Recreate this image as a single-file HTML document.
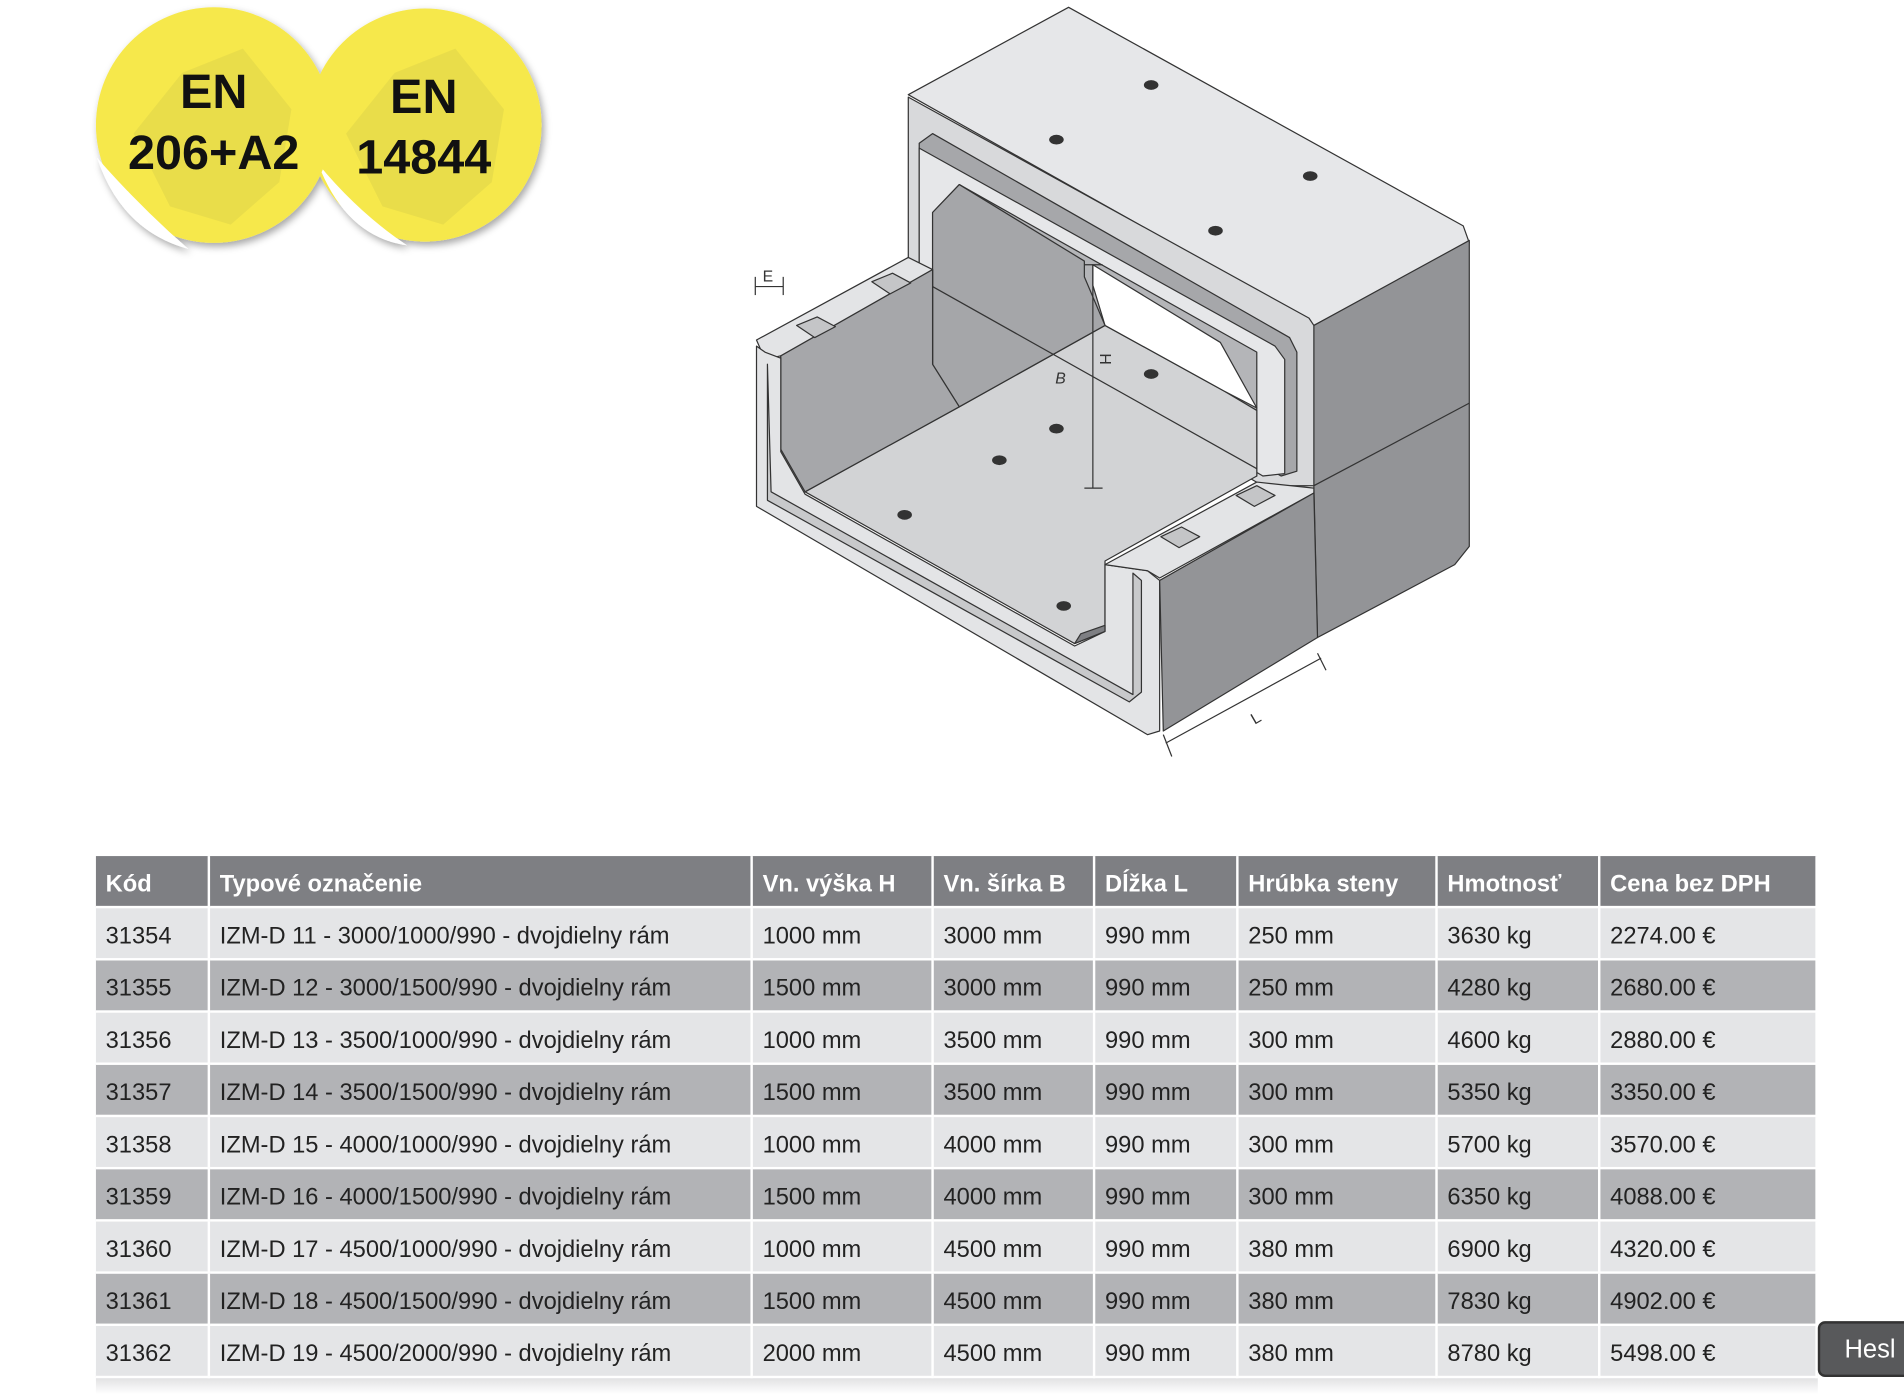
<!DOCTYPE html>
<html><head><meta charset="utf-8"><style>
html,body{margin:0;padding:0;background:#fff;overflow:hidden}
#w{width:1568px;height:1148px;position:relative;transform:scale(1.21429);transform-origin:0 0;font-family:"Liberation Sans",sans-serif}
table{position:absolute;left:79px;top:705px;border-collapse:collapse;width:1418px;font-size:19.5px;color:#222}
td,th{height:36px;padding:5px 0 0 8px;text-align:left;border:2px solid #fff;white-space:nowrap}
th{background:#7e7f83;color:#fff;font-weight:bold;font-size:19.5px;border-top:none}
tr.l td{background:#e4e5e7}
tr.d td{background:#b2b3b6}
td:first-child,th:first-child{border-left:none}
.tip{position:absolute;left:1497px;top:1088px;width:80px;height:46px;background:#58595b;border:2px solid #333;border-radius:6px;color:#fff;font-size:21px;line-height:44px;padding-left:20px;box-sizing:border-box}
</style></head><body><div id="w">
<svg width="1568" height="700" style="position:absolute;left:0;top:0">
<defs><filter id="sh"><feDropShadow dx="2" dy="3" stdDeviation="3" flood-opacity="0.35"/></filter></defs>
<g filter="url(#sh)">
<circle cx="350" cy="103" r="96" fill="#f6e84c"/>
<path d="M262 135 Q295 175 335 202 Q285 195 262 135Z" fill="#fff"/>
<circle cx="176" cy="103" r="97" fill="#f6e84c"/>
<path d="M80 130 Q115 170 155 205 Q100 190 80 130Z" fill="#fff"/>
</g>
<g fill="#e8dc4a" opacity="0.9">
<path d="M110 110 L150 60 L200 40 L240 90 L230 150 L190 185 L140 170Z"/>
<path d="M285 110 L325 60 L375 40 L415 90 L405 150 L365 185 L315 170Z"/>
</g>
<g font-weight="bold" font-size="40" text-anchor="middle" fill="#111">
<text x="176" y="89">EN</text><text x="176" y="139">206+A2</text>
<text x="349" y="93">EN</text><text x="349" y="143">14844</text>
</g>
<g stroke="#333" stroke-width="1" stroke-linejoin="round">
<polygon points="748,78 880,6 1205,186 1210,200 1082,268 1075,262" fill="#e6e7e9"/>
<polygon points="1082,268 1210,198 1210,450 1198,465 1085,525 1082,400" fill="#939497"/>
<line x1="1082" y1="400" x2="1210" y2="332"/>
<polygon points="748,80 1078,262 1082,268 1082,400 1040,400 748,232" fill="#d8d9db"/>
<polygon points="757,118 768,110 1062,278 1068,290 1068,388 1055,392 757,222" fill="#a6a7aa"/>
<polygon points="757,122 1050,285 1058,296 1058,390 1040,392 757,225" fill="#e6e7e9"/>
<polygon points="768,175 790,152 1035,290 1035,392 768,300" fill="#b4b5b8"/>
<polygon points="663,405 790,335 910,268 1008,322 1035,338 1035,392 910,462 910,520 885,530" fill="#d2d3d5"/>
<polygon points="900,218 1005,282 1035,336 1008,322 910,268 900,235" fill="#fff"/>
<polygon points="768,175 790,152 893,215 893,228 910,268 790,335 768,300" fill="#a5a6a9"/>
<polygon points="623,280 748,212 768,222 768,300 643,370 643,293 630,296" fill="#e3e4e6"/>
<polygon points="643,293 768,222 768,300 790,335 663,405 643,370" fill="#a6a7aa"/>
<polygon points="623,285 630,290 643,295 643,372 663,407 885,532 910,520 910,465 945,470 955,478 955,602 945,605 623,417" fill="#e3e4e6"/>
<polygon points="632,300 632,412 930,578 940,570 940,478 933,472 933,572 635,405" fill="#c8c9cb"/>
<polygon points="910,465 1035,397 1082,402 1082,406 955,476 945,470" fill="#e3e4e6"/>
<polygon points="955,478 1082,406 1085,525 958,602" fill="#939497"/>
<polygon points="885,530 910,520 910,515 890,522" fill="#7e7f83"/>
<g fill="#c4c5c7"><polygon points="718,232 735,225 750,233 733,242"/><polygon points="656,268 673,261 688,269 671,278"/><polygon points="1018,408 1035,400 1050,408 1033,417"/><polygon points="956,442 973,434 988,442 971,451"/></g>
<line x1="768" y1="236" x2="1035" y2="386"/>
<line x1="900" y1="218" x2="900" y2="402"/>
<line x1="893" y1="218" x2="908" y2="218"/><line x1="893" y1="402" x2="908" y2="402"/>
<line x1="960" y1="612" x2="1088" y2="542"/><line x1="958" y1="605" x2="965" y2="623"/><line x1="1085" y1="538" x2="1092" y2="552"/>
<line x1="622" y1="236" x2="645" y2="236"/><line x1="622" y1="228" x2="622" y2="243"/><line x1="645" y1="228" x2="645" y2="243"/>
</g>
<g fill="#333" font-size="13"><text x="628" y="232">E</text><text x="869" y="316" font-style="italic">B</text><text x="905" y="300" transform="rotate(90 910 296)">H</text><text x="1030" y="595" transform="rotate(-30 1035 590)">L</text></g>
<g fill="#333"><ellipse cx="948" cy="70" rx="6" ry="4"/><ellipse cx="870" cy="115" rx="6" ry="4"/><ellipse cx="1079" cy="145" rx="6" ry="4"/><ellipse cx="1001" cy="190" rx="6" ry="4"/><ellipse cx="948" cy="308" rx="6" ry="4"/><ellipse cx="870" cy="353" rx="6" ry="4"/><ellipse cx="823" cy="379" rx="6" ry="4"/><ellipse cx="745" cy="424" rx="6" ry="4"/><ellipse cx="876" cy="499" rx="6" ry="4"/></g>
</svg>
<div style="position:absolute;left:79px;top:1130px;width:1418px;height:18px;background:linear-gradient(#d6d6d8,#fff)"></div>
<table>
<colgroup><col style="width:93px"><col style="width:447px"><col style="width:149px"><col style="width:133px"><col style="width:118px"><col style="width:164px"><col style="width:134px"><col></colgroup>
<tr><th>Kód</th><th>Typové označenie</th><th>Vn. výška H</th><th>Vn. šírka B</th><th>Dĺžka L</th><th>Hrúbka steny</th><th>Hmotnosť</th><th>Cena bez DPH</th></tr>
<tr class="l"><td>31354</td><td>IZM-D 11 - 3000/1000/990 - dvojdielny rám</td><td>1000 mm</td><td>3000 mm</td><td>990 mm</td><td>250 mm</td><td>3630 kg</td><td>2274.00 €</td></tr>
<tr class="d"><td>31355</td><td>IZM-D 12 - 3000/1500/990 - dvojdielny rám</td><td>1500 mm</td><td>3000 mm</td><td>990 mm</td><td>250 mm</td><td>4280 kg</td><td>2680.00 €</td></tr>
<tr class="l"><td>31356</td><td>IZM-D 13 - 3500/1000/990 - dvojdielny rám</td><td>1000 mm</td><td>3500 mm</td><td>990 mm</td><td>300 mm</td><td>4600 kg</td><td>2880.00 €</td></tr>
<tr class="d"><td>31357</td><td>IZM-D 14 - 3500/1500/990 - dvojdielny rám</td><td>1500 mm</td><td>3500 mm</td><td>990 mm</td><td>300 mm</td><td>5350 kg</td><td>3350.00 €</td></tr>
<tr class="l"><td>31358</td><td>IZM-D 15 - 4000/1000/990 - dvojdielny rám</td><td>1000 mm</td><td>4000 mm</td><td>990 mm</td><td>300 mm</td><td>5700 kg</td><td>3570.00 €</td></tr>
<tr class="d"><td>31359</td><td>IZM-D 16 - 4000/1500/990 - dvojdielny rám</td><td>1500 mm</td><td>4000 mm</td><td>990 mm</td><td>300 mm</td><td>6350 kg</td><td>4088.00 €</td></tr>
<tr class="l"><td>31360</td><td>IZM-D 17 - 4500/1000/990 - dvojdielny rám</td><td>1000 mm</td><td>4500 mm</td><td>990 mm</td><td>380 mm</td><td>6900 kg</td><td>4320.00 €</td></tr>
<tr class="d"><td>31361</td><td>IZM-D 18 - 4500/1500/990 - dvojdielny rám</td><td>1500 mm</td><td>4500 mm</td><td>990 mm</td><td>380 mm</td><td>7830 kg</td><td>4902.00 €</td></tr>
<tr class="l"><td>31362</td><td>IZM-D 19 - 4500/2000/990 - dvojdielny rám</td><td>2000 mm</td><td>4500 mm</td><td>990 mm</td><td>380 mm</td><td>8780 kg</td><td>5498.00 €</td></tr>
</table>
<div class="tip">Hesl</div>
</div></body></html>
